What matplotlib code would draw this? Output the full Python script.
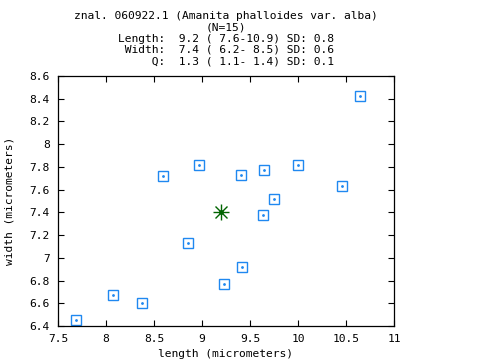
import matplotlib
matplotlib.use("Agg")
import matplotlib.pyplot as plt
from matplotlib.ticker import MultipleLocator, FormatStrFormatter

## Data
length = [7.69, 8.07, 8.38, 8.85, 9.23, 9.42, 9.64, 9.75, 9.41, 9.65,
          10.00, 10.46, 10.65, 8.59, 8.97]
width = [6.45, 6.67, 6.60, 7.13, 6.77, 6.92, 7.38, 7.52, 7.73, 7.77,
         7.82, 7.63, 8.42, 7.72, 7.82]
mean_length = 9.2
mean_width = 7.40

title_lines = ["znal. 060922.1 (Amanita phalloides var. alba)",
               "(N=15)",
               "Length:  9.2 ( 7.6-10.9) SD: 0.8",
               " Width:  7.4 ( 6.2- 8.5) SD: 0.6",
               "     Q:  1.3 ( 1.1- 1.4) SD: 0.1"]

mono = "DejaVu Sans Mono"
fs = 8.1

fig = plt.figure(figsize=(4.8, 3.6), dpi=100)
W, H = 480, 360
ax = fig.add_axes([58 / W, 1 - 326 / H, (394 - 58) / W, (326 - 76) / H])

## Spores
ax.plot(length, width, linestyle="none", marker="s", markersize=7.2,
        markerfacecolor="none", markeredgecolor="#1f88f0", markeredgewidth=1.0)
ax.plot(length, width, linestyle="none", marker="o", markersize=1.0,
        color="#1f88f0")

## Mean
ax.plot([mean_length], [mean_width], linestyle="none", marker="+",
        markersize=12, markeredgewidth=1.0, color="#006400")
ax.plot([mean_length], [mean_width], linestyle="none", marker="x",
        markersize=8.5, markeredgewidth=1.0, color="#006400")
ax.plot([mean_length], [mean_width], linestyle="none", marker="o",
        markersize=2.5, color="#006400")

ax.set_xlim(7.5, 11)
ax.set_ylim(6.4, 8.6)
ax.xaxis.set_major_locator(MultipleLocator(0.5))
ax.yaxis.set_major_locator(MultipleLocator(0.2))
ax.xaxis.set_major_formatter(FormatStrFormatter("%g"))
ax.yaxis.set_major_formatter(FormatStrFormatter("%g"))
ax.tick_params(direction="in", length=4, width=0.8, top=True, right=True,
               labelsize=fs, pad=6)
for lab in ax.get_xticklabels() + ax.get_yticklabels():
    lab.set_family(mono)
for sp in ax.spines.values():
    sp.set_linewidth(0.9)

fig.text(226 / W, 1 - 354 / H, "length (micrometers)", ha="center",
         va="center", family=mono, fontsize=fs)
fig.text(10 / W, 1 - 201 / H, "width (micrometers)", ha="center",
         va="center", rotation=90, family=mono, fontsize=fs)

## Title block
cx = 226 / W
ys = [16, 28, 39, 50, 61]
for i, line in enumerate(title_lines):
    fig.text(cx, 1 - ys[i] / H, line, ha="center", va="center",
             family=mono, fontsize=fs)

fig.savefig("out.png", dpi=100)
